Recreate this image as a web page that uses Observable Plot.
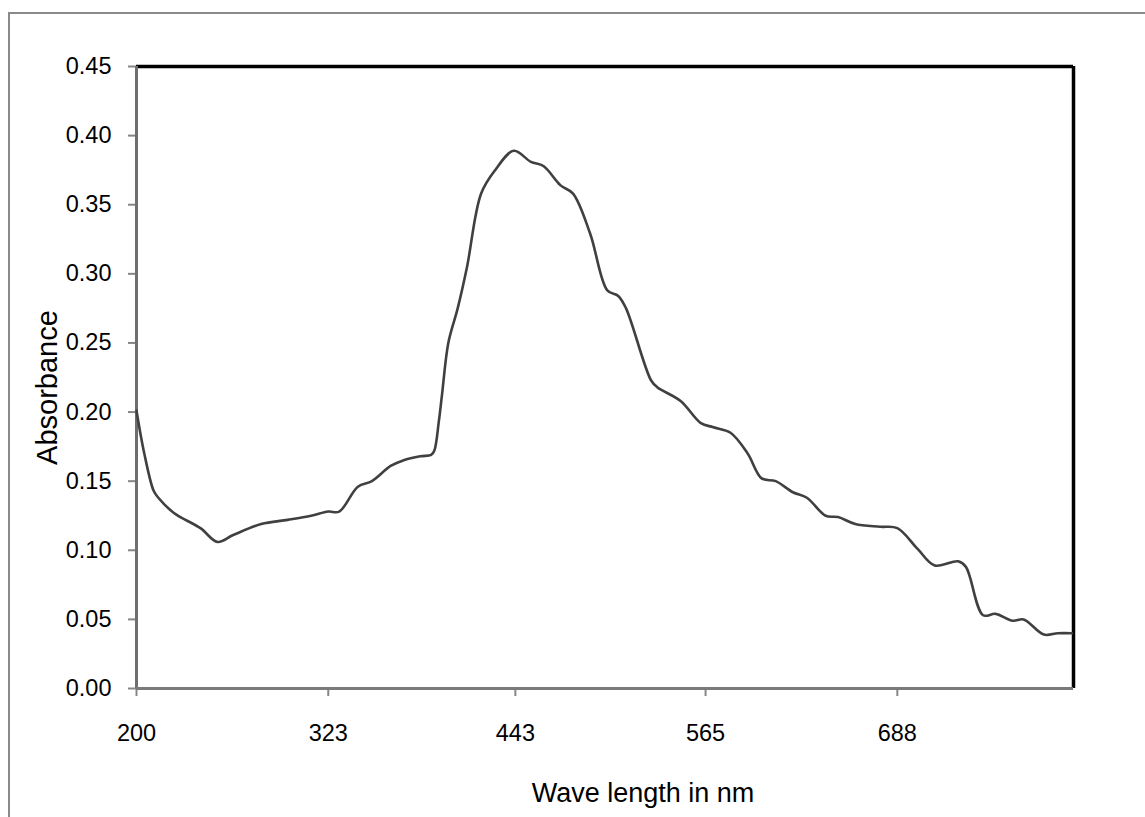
<!DOCTYPE html>
<html>
<head>
<meta charset="utf-8">
<script src="https://cdn.jsdelivr.net/npm/d3@7"></script>
<script src="https://cdn.jsdelivr.net/npm/@observablehq/plot@0.6"></script>
<style>
  html, body { margin: 0; padding: 0; background: #fff; }
  #wrap { position: relative; width: 1145px; height: 817px; overflow: hidden; }
  #border { position: absolute; left: 8px; top: 12px; width: 1200px; height: 900px;
            border-left: 2px solid #8a8a8a; border-top: 2px solid #8a8a8a; box-sizing: border-box; }
  #chart { position: absolute; left: 0; top: 0; }
</style>
</head>
<body>
<div id="wrap"><div id="border"></div><div id="chart"></div></div>
<script>
// Wavelength (nm) and absorbance
const wavelength = [200, 205, 211, 214, 224, 241, 252, 262, 280, 297, 312, 323, 330, 342, 351, 363, 371, 382, 389, 391, 394, 396, 400, 406, 412, 421, 430, 442, 453, 461, 472, 480, 491, 502, 509, 514, 530, 534, 549, 562, 570, 581, 592, 601, 610, 621, 630, 642, 650, 661, 677, 688, 701, 712, 727, 732, 743, 751, 762, 769, 782, 791, 800];
const absorbance = [0.201, 0.170, 0.143, 0.138, 0.127, 0.116, 0.106, 0.111, 0.119, 0.122, 0.125, 0.128, 0.128, 0.146, 0.150, 0.161, 0.165, 0.168, 0.169, 0.172, 0.194, 0.213, 0.250, 0.275, 0.305, 0.358, 0.375, 0.389, 0.381, 0.378, 0.364, 0.358, 0.329, 0.288, 0.284, 0.275, 0.223, 0.218, 0.208, 0.192, 0.189, 0.185, 0.170, 0.152, 0.150, 0.142, 0.138, 0.125, 0.124, 0.119, 0.117, 0.116, 0.101, 0.089, 0.092, 0.088, 0.053, 0.054, 0.049, 0.050, 0.039, 0.040, 0.040];
const xTicks = [200, 323, 443, 565, 688];
const yTicks = [0, 0.05, 0.10, 0.15, 0.20, 0.25, 0.30, 0.35, 0.40, 0.45];
const xTitle = "Wave length in nm";
const yTitle = "Absorbance";

const data = wavelength.map((w, i) => ({w, a: absorbance[i]}));
const xMax = 801;

const chart = Plot.plot({
  width: 1145,
  height: 817,
  marginLeft: 136,
  marginRight: 72,
  marginTop: 66,
  marginBottom: 129,
  style: {fontFamily: "'Liberation Sans', Arial, sans-serif", fontSize: "23px", color: "#000", background: "transparent"},
  x: {domain: [200, xMax]},
  y: {domain: [0, 0.45]},
  marks: [
    Plot.axisX({ticks: xTicks, tickSize: 8, tickPadding: 28, tickFormat: d => String(d), stroke: "#868686", strokeWidth: 2, fill: "#000", label: null, fontSize: 23.5}),
    Plot.axisY({ticks: yTicks, tickSize: 8, tickPadding: 17, tickFormat: d3.format(".2f"), stroke: "#868686", strokeWidth: 2, fill: "#000", label: null, fontSize: 23.5}),
    Plot.ruleY([0.45], {stroke: "#000", strokeWidth: 3.5}),
    Plot.ruleX([xMax], {stroke: "#000", strokeWidth: 3.5}),
    Plot.ruleX([200], {stroke: "#6e6e6e", strokeWidth: 3}),
    Plot.ruleY([0], {stroke: "#7a7a7a", strokeWidth: 3}),
    Plot.line(data, {x: "w", y: "a", curve: "catmull-rom", stroke: "#404040", strokeWidth: 2.6}),
    Plot.text([xTitle], {frameAnchor: "bottom", dx: 38, dy: 113, lineAnchor: "bottom", fontSize: 27, fill: "#000"}),
    Plot.text([yTitle], {frameAnchor: "left", dx: -89, dy: 10, rotate: -90, lineAnchor: "middle", textAnchor: "middle", fontSize: 29, fill: "#000"})
  ]
});
document.getElementById("chart").appendChild(chart);
</script>
</body>
</html>
